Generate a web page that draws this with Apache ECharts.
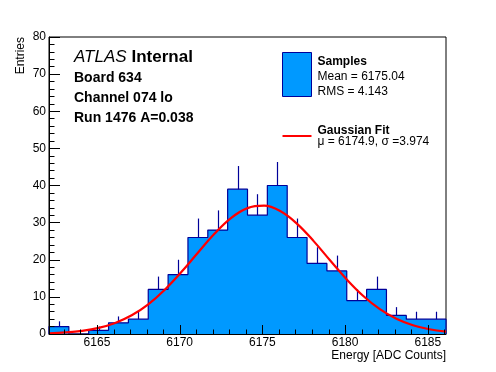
<!DOCTYPE html>
<html><head><meta charset="utf-8">
<script src="https://cdn.jsdelivr.net/npm/echarts@6/dist/echarts.min.js"></script>
<style>html,body{margin:0;padding:0;background:#fff}#c{width:496px;height:372px}</style>
</head><body><div id="c"></div>
<script>
// ---- data ----
const histMin = 6162.1;
const histMax = 6186.1;
const binWidth = 1.2;
const counts = [2, 0, 1, 3, 4, 12, 16, 26, 28, 39, 32, 40, 26, 19, 17, 9, 12, 5, 4, 4];
const fitX = [6162.1, 6163.1, 6164.1, 6165.1, 6166.1, 6167.1, 6168.1, 6169.1, 6170.1, 6171.1, 6172.1, 6173.1, 6174.1, 6175.1, 6176.1, 6177.1, 6178.1, 6179.1, 6180.1, 6181.1, 6182.1, 6183.1, 6184.1, 6185.1, 6186.1];
const fitY = [0.19, 0.42, 0.86, 1.65, 2.98, 5.04, 8.00, 11.93, 16.68, 21.90, 26.99, 31.23, 33.91, 34.56, 33.06, 29.68, 25.02, 19.79, 14.70, 10.25, 6.70, 4.12, 2.37, 1.28, 0.65];
const xTickLabels = [6165, 6170, 6175, 6180, 6185];
const xTicks = [6163, 6164, 6165, 6166, 6167, 6168, 6169, 6170, 6171, 6172, 6173, 6174, 6175, 6176, 6177, 6178, 6179, 6180, 6181, 6182, 6183, 6184, 6185, 6186];

const FONT = '"Liberation Sans", Arial, Helvetica, sans-serif';
const FILL = '#0099ff';
const EDGE = '#000099';

// step outline data built from bins
const stepData = [[histMin, 0]];
counts.forEach((c, i) => stepData.push([histMin + i * binWidth, c]));
stepData.push([histMin + counts.length * binWidth, counts[counts.length - 1]]);
stepData.push([histMin + counts.length * binWidth, 0]);

const errData = counts.map((c, i) => [histMin + (i + 0.5) * binWidth, c, Math.sqrt(c)]);
const fitData = fitX.map((x, i) => [x, fitY[i]]);

const chart = echarts.init(document.getElementById('c'), null, {renderer: 'canvas'});
chart.setOption({
  animation: false,
  backgroundColor: '#fff',
  grid: {left: 49, top: 37, width: 397, height: 297, show: true, borderColor: '#000', borderWidth: 1, backgroundColor: '#fff'},
  xAxis: {
    type: 'value', min: histMin, max: histMax, z: 5,
    axisLine: {show: true, lineStyle: {color: '#000', width: 1}},
    axisTick: {show: false}, axisLabel: {show: false}, splitLine: {show: false}
  },
  yAxis: {
    type: 'value', min: 0, max: 80, interval: 10, z: 5,
    axisLine: {show: true, lineStyle: {color: '#000', width: 1}},
    axisTick: {show: true, inside: true, length: 11, lineStyle: {color: '#000'}},
    minorTick: {show: true, splitNumber: 5, length: 5.5, lineStyle: {color: '#000'}},
    axisLabel: {color: '#000', fontSize: 12, fontFamily: FONT, margin: 3},
    splitLine: {show: false}
  },
  series: [
    {
      type: 'line', data: stepData, step: 'end', showSymbol: false, silent: true, z: 2,
      lineStyle: {color: EDGE, width: 1.2},
      areaStyle: {color: FILL, opacity: 1}
    },
    {
      type: 'custom', data: errData, z: 3, silent: true,
      renderItem: function (params, api) {
        const x = api.value(0), v = api.value(1), e = api.value(2);
        if (!(v > 0)) return {type: 'group', children: []};
        const p1 = api.coord([x, v]), p2 = api.coord([x, v + e]);
        const px = Math.round(p1[0]) + 0.5;
        return {type: 'line', shape: {x1: px, y1: p1[1], x2: px, y2: p2[1]}, style: {stroke: EDGE, lineWidth: 1.2}};
      }
    },
    {
      type: 'line', data: fitData, smooth: 0.4, showSymbol: false, silent: true, z: 4,
      lineStyle: {color: '#ff0000', width: 2.2}
    },
    {
      type: 'custom', data: xTicks.map(v => [v, 0]), z: 6, silent: true, clip: false,
      renderItem: function (params, api) {
        const v = api.value(0);
        const p = api.coord([v, 0]);
        const major = xTickLabels.indexOf(v) >= 0;
        const px = Math.round(p[0]) + 0.5;
        const len = major ? 9 : 4.5;
        const children = [{type: 'line', shape: {x1: px, y1: p[1], x2: px, y2: p[1] - len}, style: {stroke: '#000', lineWidth: 1}}];
        if (major) {
          children.push({type: 'text', x: p[0], y: p[1] + 9, style: {text: String(v), align: 'center', verticalAlign: 'middle', font: '12px ' + FONT, fill: '#000'}});
        }
        return {type: 'group', children: children};
      }
    }
  ],
  graphic: [
    {type: 'text', x: 446, y: 355.5, style: {text: 'Energy [ADC Counts]', align: 'right', verticalAlign: 'middle', font: '12px ' + FONT, fill: '#000'}},
    {type: 'text', x: 20.5, y: 37, rotation: Math.PI / 2, style: {text: 'Entries', align: 'right', verticalAlign: 'middle', font: '12px ' + FONT, fill: '#000'}},
    {type: 'text', x: 74, y: 57, style: {text: 'ATLAS', align: 'left', verticalAlign: 'middle', font: 'italic 17px ' + FONT, fill: '#000'}},
    {type: 'text', x: 131.5, y: 57, style: {text: 'Internal', align: 'left', verticalAlign: 'middle', font: 'bold 17px ' + FONT, fill: '#000'}},
    {type: 'text', x: 74, y: 78.5, style: {text: 'Board 634', align: 'left', verticalAlign: 'middle', font: 'bold 14px ' + FONT, fill: '#000'}},
    {type: 'text', x: 74, y: 98.5, style: {text: 'Channel 074 lo', align: 'left', verticalAlign: 'middle', font: 'bold 14px ' + FONT, fill: '#000'}},
    {type: 'text', x: 74, y: 117.8, style: {text: 'Run 1476 A=0.038', align: 'left', verticalAlign: 'middle', font: 'bold 14px ' + FONT, fill: '#000'}},
    {type: 'rect', shape: {x: 282.5, y: 52.5, width: 29, height: 44}, style: {fill: FILL, stroke: EDGE, lineWidth: 1}},
    {type: 'text', x: 317.5, y: 61.8, style: {text: 'Samples', align: 'left', verticalAlign: 'middle', font: 'bold 12px ' + FONT, fill: '#000'}},
    {type: 'text', x: 317.5, y: 77, style: {text: 'Mean = 6175.04', align: 'left', verticalAlign: 'middle', font: '12px ' + FONT, fill: '#000'}},
    {type: 'text', x: 317.5, y: 91.2, style: {text: 'RMS = 4.143', align: 'left', verticalAlign: 'middle', font: '12px ' + FONT, fill: '#000'}},
    {type: 'line', shape: {x1: 282.5, y1: 136, x2: 311.5, y2: 136}, style: {stroke: '#ff0000', lineWidth: 2}},
    {type: 'text', x: 317.5, y: 130.5, style: {text: 'Gaussian Fit', align: 'left', verticalAlign: 'middle', font: 'bold 12px ' + FONT, fill: '#000'}},
    {type: 'text', x: 317.5, y: 141.5, style: {text: 'μ = 6174.9, σ =3.974', align: 'left', verticalAlign: 'middle', font: '12px ' + FONT, fill: '#000'}}
  ]
});
</script>
</body></html>
